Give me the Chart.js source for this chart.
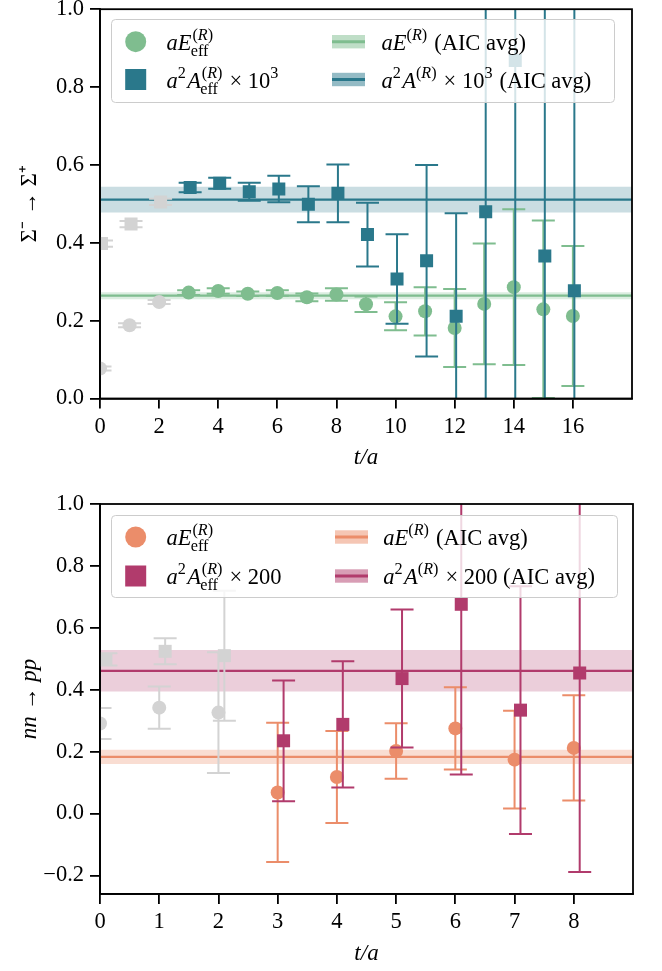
<!DOCTYPE html>
<html><head><meta charset="utf-8">
<script src="https://cdn.jsdelivr.net/npm/chart.js@4/dist/chart.umd.min.js"></script>
<style>
html,body{margin:0;padding:0;background:#fff;}
#wrap{position:relative;width:662px;height:971px;overflow:hidden;}
canvas{position:absolute;left:0;}
#c1{top:0;} #c2{top:480px;}
</style></head>
<body><div id="wrap">
<canvas id="c1" width="662" height="480" style="width:662px;height:480px"></canvas>
<canvas id="c2" width="662" height="491" style="width:662px;height:491px"></canvas>
</div>
<script>
// ================= DATA =================
// Top panel: Sigma^- -> Sigma^+
const topTGrey = [0, 1, 2];
const topEGrey = [0.077, 0.188, 0.248];
const topEGreyErr = [0.005, 0.005, 0.005];
const topAGrey = [0.398, 0.448, 0.505];
const topAGreyErr = [0.008, 0.008, 0.008];
const topT = [3, 4, 5, 6, 7, 8, 9, 10, 11, 12, 13, 14, 15, 16];
const topE = [0.272, 0.276, 0.269, 0.271, 0.260, 0.267, 0.242, 0.211, 0.224, 0.181, 0.243, 0.286, 0.229, 0.212];
const topEErr = [0.006, 0.007, 0.006, 0.007, 0.010, 0.016, 0.020, 0.036, 0.062, 0.100, 0.155, 0.200, 0.228, 0.180];
const topA = [0.542, 0.553, 0.531, 0.538, 0.499, 0.527, 0.421, 0.307, 0.354, 0.211, 0.480, 0.868, 0.366, 0.277];
const topAErr = [0.012, 0.014, 0.023, 0.034, 0.046, 0.074, 0.082, 0.115, 0.246, 0.265, 0.600, 1.000, 0.800, 0.900];
const topEAvg = [0.264, 0.009];   // value, error
const topAAvg = [0.511, 0.033];
const topXTicks = [0, 2, 4, 6, 8, 10, 12, 14, 16];
const topYTicks = [0.0, 0.2, 0.4, 0.6, 0.8, 1.0];

// Bottom panel: nn -> pp
const botTGrey = [0, 1, 2];
const botEGrey = [0.291, 0.342, 0.326];
const botEGreyErr = [0.050, 0.068, 0.195];
const botAGrey = [0.498, 0.524, 0.510];
const botAGreyErr = [0.020, 0.042, 0.210];
const botT = [3, 4, 5, 6, 7, 8];
const botE = [0.068, 0.118, 0.202, 0.275, 0.174, 0.212];
const botEErr = [0.225, 0.149, 0.090, 0.133, 0.158, 0.170];
const botA = [0.235, 0.288, 0.436, 0.676, 0.334, 0.454];
const botAErr = [0.195, 0.204, 0.223, 0.550, 0.400, 0.643];
const botEAvg = [0.183, 0.023];
const botAAvg = [0.461, 0.067];
const botXTicks = [0, 1, 2, 3, 4, 5, 6, 7, 8];
const botYTicks = [-0.2, 0.0, 0.2, 0.4, 0.6, 0.8, 1.0];

// ================= STYLE =================
const FONT = "'Liberation Serif', 'Times New Roman', serif";
const GREY = '#d3d3d3';
const CAP = 11.5;
const LFS = 22.5; // legend font size

const errorBarPlugin = {
  id: 'errorBars',
  beforeDatasetDraw(chart, args) {
    const ds = chart.data.datasets[args.index];
    if (!ds.errorBars) return;
    const {ctx, chartArea: a, scales: {x, y}} = chart;
    ctx.save();
    ctx.beginPath(); ctx.rect(a.left, a.top, a.right - a.left, a.bottom - a.top); ctx.clip();
    ctx.strokeStyle = ds.errorColor; ctx.lineWidth = 2; ctx.lineCap = 'butt';
    ds.data.forEach((p, i) => {
      const e = ds.errorBars[i];
      const px = x.getPixelForValue(p.x);
      const y1 = y.getPixelForValue(p.y - e), y2 = y.getPixelForValue(p.y + e);
      ctx.beginPath();
      ctx.moveTo(px, y1); ctx.lineTo(px, y2);
      ctx.moveTo(px - CAP, y1); ctx.lineTo(px + CAP, y1);
      ctx.moveTo(px - CAP, y2); ctx.lineTo(px + CAP, y2);
      ctx.stroke();
    });
    ctx.restore();
  }
};

function drawRuns(ctx, x, y, runs, size) {
  for (const r of runs) {
    if (!Array.isArray(r)) {
      const s = size * 0.72;
      const x1 = r.sup ? drawRuns(ctx, x + (r.sub ? size * 0.04 : 0), y - size * 0.45, r.sup, s) : x;
      const x2 = r.sub ? drawRuns(ctx, x - size * 0.03, y + size * 0.27, r.sub, s) : x;
      x = Math.max(x1, x2) + size * 0.06;
    } else {
      ctx.font = (r[1] === 'i' ? 'italic ' : '') + size + 'px ' + FONT;
      ctx.fillText(r[0], x, y);
      x += ctx.measureText(r[0]).width;
    }
  }
  return x;
}

const legendPlugin = {
  id: 'mathLegend',
  afterDraw(chart) {
    const L = chart.options.plugins.mathLegend;
    if (!L) return;
    const ctx = chart.ctx;
    ctx.save();
    const b = L.box;
    ctx.beginPath();
    ctx.roundRect(b[0] + 0.5, b[1] + 0.5, b[2], b[3], 4);
    ctx.fillStyle = 'rgba(255,255,255,0.8)'; ctx.fill();
    ctx.strokeStyle = '#cccccc'; ctx.lineWidth = 1; ctx.stroke();
    ctx.textBaseline = 'alphabetic'; ctx.textAlign = 'left';
    L.items.forEach(it => {
      const cy = it.cy;
      if (it.kind === 'circle') {
        ctx.fillStyle = it.color; ctx.beginPath(); ctx.arc(L.markerX, cy, 10.5, 0, Math.PI * 2); ctx.fill();
      } else if (it.kind === 'square') {
        ctx.fillStyle = it.color; ctx.fillRect(L.markerX - 10.5, cy - 10.5, 21, 21);
      } else {
        ctx.fillStyle = it.band; ctx.fillRect(it.hx, cy - 6.7, 33, 13.4);
        ctx.strokeStyle = it.color; ctx.lineWidth = 3; ctx.beginPath(); ctx.moveTo(it.hx, cy); ctx.lineTo(it.hx + 33, cy); ctx.stroke();
      }
      ctx.fillStyle = '#000';
      drawRuns(ctx, it.tx, cy + 8.4, it.text, LFS);
    });
    ctx.restore();
  }
};

const framePlugin = {
  id: 'frame',
  afterDatasetsDraw(chart) {
    const {ctx, chartArea: a} = chart;
    ctx.save(); ctx.strokeStyle = '#000'; ctx.lineWidth = 1.8;
    ctx.strokeRect(a.left, a.top, a.right - a.left, a.bottom - a.top);
    ctx.restore();
  }
};

function pts(ts, ys, dx) { return ts.map((t, i) => ({x: t + dx, y: ys[i]})); }
function fmtY(v) { const s = Math.abs(v).toFixed(1); return v < -1e-9 ? '\u2212' + s : s; }

const R = [['(', 'r'], ['R', 'i'], [')', 'r']];
const EFF = [['eff', 'r']];

function makeChart(id, P) {
  const xMin = P.xRange[0], xMax = P.xRange[1];
  const band = (avg, col) => ({
    type: 'line', data: [{x: xMin, y: avg[0] + avg[1]}, {x: xMax, y: avg[0] + avg[1]}],
    fill: {value: avg[0] - avg[1]}, backgroundColor: col, borderWidth: 0, pointRadius: 0, order: 10
  });
  const line = (avg, col) => ({
    type: 'line', data: [{x: xMin, y: avg[0]}, {x: xMax, y: avg[0]}],
    borderColor: col, borderWidth: 2.2, pointRadius: 0, fill: false, order: 8
  });
  const scat = (data, err, col, style, r, order) => ({
    type: 'line', data, showLine: false, pointStyle: style, pointRadius: r,
    pointBackgroundColor: col, pointBorderWidth: 0, borderWidth: 0, errorBars: err, errorColor: col, order
  });
  const datasets = [
    band(P.eAvg, P.eBand), band(P.aAvg, P.aBand),
    line(P.eAvg, P.eCol), line(P.aAvg, P.aCol),
    scat(pts(P.tGrey, P.eGrey, 0), P.eGreyErr, GREY, 'circle', 7, 6),
    scat(pts(P.tGrey, P.aGrey, P.dx), P.aGreyErr, GREY, 'rect', 9.2, 6),
    scat(pts(P.t, P.e, 0), P.eErr, P.eCol, 'circle', 7, 3),
    scat(pts(P.t, P.a, P.dx), P.aErr, P.aCol, 'rect', 9.2, 1)
  ];
  return new Chart(document.getElementById(id), {
    type: 'line',
    data: {datasets},
    plugins: [errorBarPlugin, framePlugin, legendPlugin],
    options: {
      responsive: false, animation: false, devicePixelRatio: 1, events: [],
      layout: {padding: P.pad},
      plugins: {legend: {display: false}, tooltip: {enabled: false}, mathLegend: P.legend},
      scales: {
        x: {
          type: 'linear', min: xMin, max: xMax,
          afterBuildTicks: s => { s.ticks = P.xTicks.map(v => ({value: v})); },
          afterFit: s => { s.height = P.xAxisH; s.paddingLeft = 0; s.paddingRight = 0; s.paddingTop = 0; s.paddingBottom = 0; },
          ticks: {autoSkip: false, maxRotation: 0, padding: 5, color: '#000', font: {family: FONT, size: 22.5}, callback: v => String(v)},
          grid: {drawOnChartArea: false, drawTicks: true, tickLength: 10, color: '#000', lineWidth: 1.8},
          border: {display: true, color: '#000', width: 1.8},
          title: {display: true, text: 't/a', color: '#000', font: {family: FONT, size: 23, style: 'italic'}, padding: {top: 0, bottom: P.xTitlePad}}
        },
        y: {
          type: 'linear', min: P.yRange[0], max: P.yRange[1],
          afterBuildTicks: s => { s.ticks = P.yTicks.map(v => ({value: v})); },
          afterFit: s => { s.width = 100; s.paddingLeft = 0; s.paddingRight = 0; s.paddingTop = 0; s.paddingBottom = 0; },
          ticks: {autoSkip: false, padding: 6, color: '#000', font: {family: FONT, size: 22.5}, callback: v => fmtY(v)},
          grid: {drawOnChartArea: false, drawTicks: true, tickLength: 10, color: '#000', lineWidth: 1.8},
          border: {display: true, color: '#000', width: 1.8},
          title: {display: true, text: P.yTitle, color: '#000', font: {family: FONT, size: 23, style: P.yTitleStyle}, padding: {top: 16.5, bottom: 0}}
        }
      }
    }
  });
}

const GREEN = '#7fbd8f', TEAL = '#2a788b', ORANGE = '#eb8d6a', PINK = '#b13b6c';

makeChart('c1', {
  tGrey: topTGrey, eGrey: topEGrey, eGreyErr: topEGreyErr, aGrey: topAGrey, aGreyErr: topAGreyErr,
  t: topT, e: topE, eErr: topEErr, a: topA, aErr: topAErr, eAvg: topEAvg, aAvg: topAAvg,
  xTicks: topXTicks, yTicks: topYTicks, xRange: [0, 18], yRange: [0, 1], dx: 0.05,
  eCol: GREEN, aCol: TEAL, eBand: 'rgba(127,189,143,0.28)', aBand: 'rgba(42,120,139,0.25)',
  pad: {top: 7.5, right: 30, left: 0, bottom: 0}, xAxisH: 81.5, xTitlePad: 7.8,
  yTitle: '\u03A3\u207B \u2192 \u03A3\u207A', yTitleStyle: 'normal',
  legend: {
    box: [111, 19, 503, 83], markerX: 135.7,
    items: [
      {kind: 'circle', color: GREEN, cy: 41.7, tx: 166.5, text: [['a', 'i'], ['E', 'i'], {sup: R, sub: EFF}]},
      {kind: 'square', color: TEAL, cy: 79.5, tx: 166.5, text: [['a', 'i'], {sup: [['2', 'r']]}, ['A', 'i'], {sup: R, sub: EFF}, [' \u00D7 10', 'r'], {sup: [['3', 'r']]}]},
      {kind: 'band', color: GREEN, band: 'rgba(127,189,143,0.5)', hx: 332, cy: 41.7, tx: 381.5, text: [['a', 'i'], ['E', 'i'], {sup: R}, [' (AIC avg)', 'r']]},
      {kind: 'band', color: TEAL, band: 'rgba(42,120,139,0.5)', hx: 332, cy: 79.5, tx: 381.5, text: [['a', 'i'], {sup: [['2', 'r']]}, ['A', 'i'], {sup: R}, [' \u00D7 10', 'r'], {sup: [['3', 'r']]}, [' (AIC avg)', 'r']]}
    ]
  }
});

makeChart('c2', {
  tGrey: botTGrey, eGrey: botEGrey, eGreyErr: botEGreyErr, aGrey: botAGrey, aGreyErr: botAGreyErr,
  t: botT, e: botE, eErr: botEErr, a: botA, aErr: botAErr, eAvg: botEAvg, aAvg: botAAvg,
  xTicks: botXTicks, yTicks: botYTicks, xRange: [0, 9], yRange: [-0.26, 1], dx: 0.1,
  eCol: ORANGE, aCol: PINK, eBand: 'rgba(235,141,106,0.3)', aBand: 'rgba(177,59,108,0.25)',
  pad: {top: 24, right: 29, left: 0, bottom: 0}, xAxisH: 77, xTitlePad: 2.8,
  yTitle: 'nn \u2192 pp', yTitleStyle: 'italic',
  legend: {
    box: [111, 35, 506, 82], markerX: 135.7,
    items: [
      {kind: 'circle', color: ORANGE, cy: 57, tx: 166.5, text: [['a', 'i'], ['E', 'i'], {sup: R, sub: EFF}]},
      {kind: 'square', color: PINK, cy: 96, tx: 166.5, text: [['a', 'i'], {sup: [['2', 'r']]}, ['A', 'i'], {sup: R, sub: EFF}, [' \u00D7 200', 'r']]},
      {kind: 'band', color: ORANGE, band: 'rgba(235,141,106,0.5)', hx: 335, cy: 57, tx: 383.3, text: [['a', 'i'], ['E', 'i'], {sup: R}, [' (AIC avg)', 'r']]},
      {kind: 'band', color: PINK, band: 'rgba(177,59,108,0.5)', hx: 335, cy: 96, tx: 383.3, text: [['a', 'i'], {sup: [['2', 'r']]}, ['A', 'i'], {sup: R}, [' \u00D7 200 (AIC avg)', 'r']]}
    ]
  }
});
</script>
</body></html>
